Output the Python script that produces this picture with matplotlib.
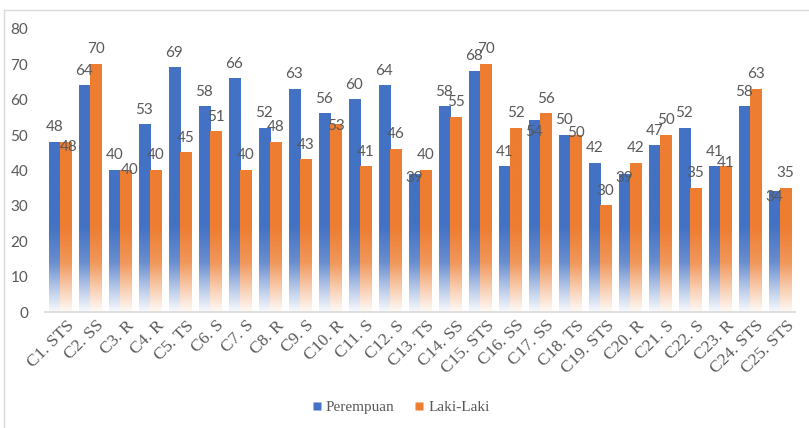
import numpy as np
import matplotlib
matplotlib.use("Agg")
import matplotlib.pyplot as plt
import matplotlib.transforms as mtransforms
from matplotlib.colors import to_rgb
from matplotlib.lines import Line2D

categories = ["C1. STS", "C2. SS", "C3. R", "C4. R", "C5. TS", "C6. S", "C7. S",
              "C8. R", "C9. S", "C10. R", "C11. S", "C12. S", "C13. TS", "C14. SS",
              "C15. STS", "C16. SS", "C17. SS", "C18. TS", "C19. STS", "C20. R",
              "C21. S", "C22. S", "C23. R", "C24. STS", "C25. STS"]
perempuan = [48, 64, 40, 53, 69, 58, 66, 52, 63, 56, 60, 64, 39, 58, 68, 41, 54, 50, 42, 39, 47, 52, 41, 58, 34]
laki_laki = [48, 70, 40, 40, 45, 51, 40, 48, 43, 53, 41, 46, 40, 55, 70, 52, 56, 50, 30, 42, 50, 35, 41, 63, 35]
y_ticks = [0, 10, 20, 30, 40, 50, 60, 70, 80]

BLUE = "#4472C4"
ORANGE = "#ED7D31"

# manual label nudges (pixels: dx, dy-from-bar-top), as in the original chart
label_nudge = {
    ("L", 0): (3, -5), ("L", 2): (4, 0), ("L", 9): (0, -1),
    ("P", 12): (0, -4), ("P", 16): (0, -11), ("L", 17): (0, 2),
    ("P", 19): (0, -4), ("L", 22): (0, 4), ("P", 24): (0, -5),
}
DEFAULT_DY = 15

fig = plt.figure(figsize=(8.09, 4.28), dpi=100)
ax = fig.add_axes([45/809, 1-312/428, 750/809, 283/428])

w = 0.37
x = np.arange(len(categories))

def grad_bar(ax, x0, width, h, color):
    n = 200
    ys = np.linspace(0, h, n)
    f = np.interp(ys, [0, 6, 14, 24, 80], [0.04, 0.35, 0.8, 1.0, 1.0])
    base = np.array(to_rgb(color))
    rgb = 1 - (1 - base)[None, :] * f[:, None]
    img = np.ones((n, 1, 4))
    img[:, 0, :3] = rgb
    ax.imshow(img, extent=[x0, x0 + width, 0, h], origin="lower",
              aspect="auto", interpolation="bilinear", zorder=2)

PX = 72 / 100  # points per pixel
label_font = dict(family=["Lato", "DejaVu Sans"], size=11, color="#595959")

def put_label(key, i, xc, val):
    dx, dy = label_nudge.get((key, i), (0, DEFAULT_DY))
    ax.annotate(str(val), (xc, val), xytext=(dx * PX, dy * PX),
                textcoords="offset points", ha="center", va="center", zorder=3, **label_font)

for i in range(len(categories)):
    grad_bar(ax, x[i] - w, w, perempuan[i], BLUE)
    grad_bar(ax, x[i], w, laki_laki[i], ORANGE)
for i in range(len(categories)):
    put_label("P", i, x[i] - w/2, perempuan[i])
    put_label("L", i, x[i] + w/2, laki_laki[i])

ax.set_xlim(-0.5, len(categories) - 0.5)
ax.set_ylim(0, 80)
ax.set_yticks(y_ticks)
ax.set_yticklabels([str(v) for v in y_ticks], fontfamily=["Lato", "DejaVu Sans"],
                   fontsize=11, color="#595959")
ax.tick_params(axis="y", length=0, pad=12)
ax.set_xticks(x)
ax.set_xticklabels(categories, rotation=45, ha="right", rotation_mode="anchor",
                   fontfamily=["Liberation Serif"], fontsize=12.5, color="#595959")
ax.tick_params(axis="x", length=0, pad=4)
offset = mtransforms.ScaledTranslation(6/100, 0, fig.dpi_scale_trans)
for lbl in ax.get_xticklabels():
    lbl.set_transform(lbl.get_transform() + offset)

for s in ["top", "right", "left"]:
    ax.spines[s].set_visible(False)
ax.spines["bottom"].set_color("#D9D9D9")
ax.spines["bottom"].set_linewidth(1.2)

handles = [Line2D([], [], marker="s", color="none", markerfacecolor=BLUE, markeredgecolor="none", markersize=6),
           Line2D([], [], marker="s", color="none", markerfacecolor=ORANGE, markeredgecolor="none", markersize=6)]
fig.legend(handles, ["Perempuan", "Laki-Laki"], loc="center", bbox_to_anchor=(400/809, 1-407/428),
           ncol=2, frameon=False, prop={"family": "Liberation Serif", "size": 11},
           handlelength=0.8, handletextpad=0.2, columnspacing=1.2, labelcolor="#595959")

# chart border
fig.add_artist(Line2D([4/809, 4/809], [0, 1-10/428], color="#D9D9D9", lw=1, transform=fig.transFigure))
fig.add_artist(Line2D([4/809, 1], [1-10/428, 1-10/428], color="#D9D9D9", lw=1, transform=fig.transFigure))

fig.savefig("out.png", dpi=100)
